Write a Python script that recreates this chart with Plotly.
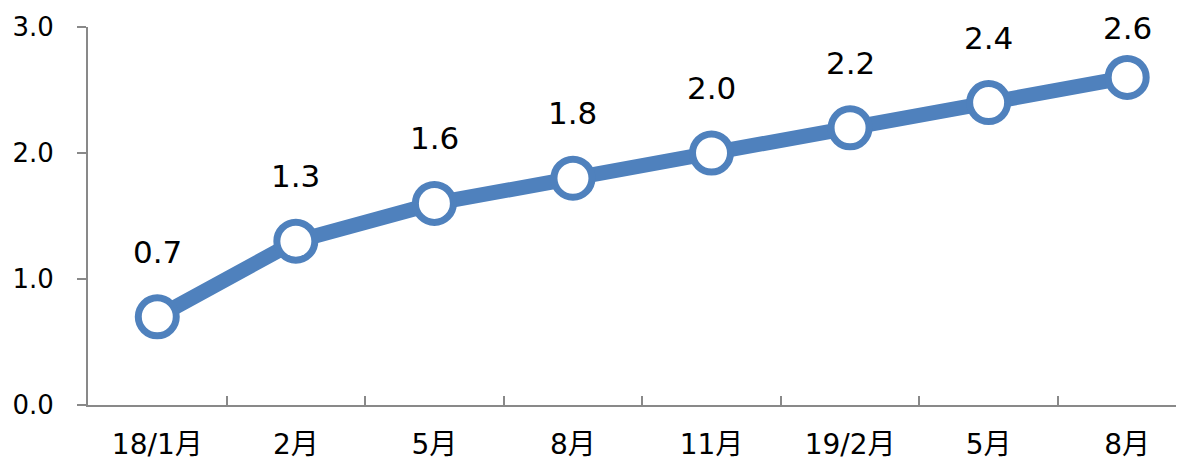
import plotly.graph_objects as go

categories = ["18/1月", "2月", "5月", "8月", "11月", "19/2月", "5月", "8月"]
values = [0.7, 1.3, 1.6, 1.8, 2.0, 2.2, 2.4, 2.6]
y_ticks = [0.0, 1.0, 2.0, 3.0]

blue = "rgb(79,129,189)"
axis_gray = "#898989"
font_fam = "DejaVu Sans, Verdana, Noto Sans CJK JP, sans-serif"

xs = list(range(len(categories)))

fig = go.Figure()
fig.add_trace(go.Scatter(
    x=xs, y=values, mode="lines+markers",
    line=dict(color=blue, width=15),
    marker=dict(size=38, color="white", line=dict(color=blue, width=7)),
    hoverinfo="skip", showlegend=False, cliponaxis=False,
))

label_shift = [65] * (len(values) - 1) + [49]
for x, v, s in zip(xs, values, label_shift):
    fig.add_annotation(x=x, y=v, text=f"{v:.1f}", showarrow=False,
                       yshift=s, xanchor="center", yanchor="middle",
                       font=dict(size=31, color="black", family=font_fam))

# page body has an 8px default margin, so the figure is sized to fit the window
fig.update_layout(
    width=1176, height=456,
    margin=dict(l=80, r=0, t=19, b=59, autoexpand=False),
    paper_bgcolor="white", plot_bgcolor="white",
    font=dict(family=font_fam, color="black"),
)
fig.update_xaxes(
    range=[-0.5, 7.41], tickmode="array", tickvals=xs, ticktext=categories,
    ticks="", showgrid=False, zeroline=False, automargin=False,
    showline=True, linecolor=axis_gray, linewidth=2,
    tickfont=dict(size=28, color="black", family=font_fam),
    ticklabelstandoff=13,
    minor=dict(tickmode="array", tickvals=[i + 0.5 for i in xs[:-1]],
               ticks="inside", ticklen=9, tickcolor=axis_gray, tickwidth=2,
               showgrid=False),
)
fig.update_yaxes(
    range=[0, 3], tickmode="array", tickvals=y_ticks,
    ticktext=[f"{t:.1f}" for t in y_ticks],
    ticks="outside", ticklen=9, tickcolor=axis_gray, tickwidth=2,
    showgrid=False, zeroline=False, automargin=False,
    showline=True, linecolor=axis_gray, linewidth=2,
    tickfont=dict(size=26, color="black", family=font_fam),
    ticklabelstandoff=18,
)

fig.write_html("out.html")
